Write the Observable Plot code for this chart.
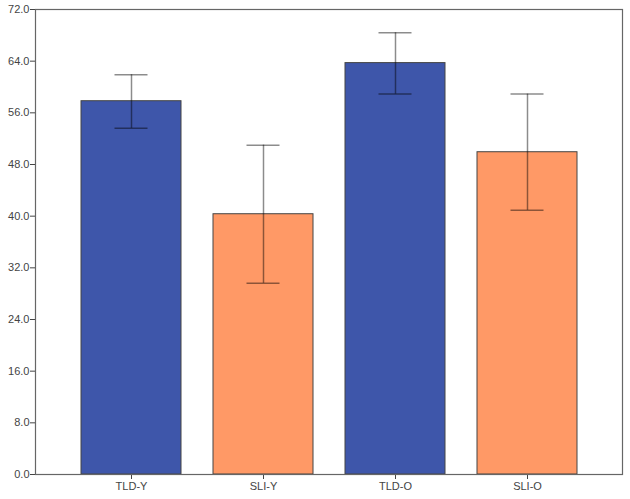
<!DOCTYPE html>
<html><head><meta charset="utf-8">
<script src="https://cdn.jsdelivr.net/npm/d3@7"></script>
<script src="https://cdn.jsdelivr.net/npm/@observablehq/plot@0.6"></script>
<style>body{margin:0;background:#fff;} svg{display:block;}</style>
</head><body><div id="chart"></div>
<script>
const groups = ["TLD-Y", "SLI-Y", "TLD-O", "SLI-O"];
const means = [57.8, 40.3, 63.7, 49.9];
const lower = [53.6, 29.6, 58.9, 40.9];
const upper = [61.9, 51.0, 68.4, 58.9];
const colors = ["#3E56AA", "#FF9966", "#3E56AA", "#FF9966"];
const yTicks = [0, 8, 16, 24, 32, 40, 48, 56, 64, 72];

const data = groups.map((g, i) => ({group: g, mean: means[i], lo: lower[i], hi: upper[i], color: colors[i]}));

const chart = Plot.plot({
  width: 630, height: 499,
  marginLeft: 35, marginRight: 8, marginTop: 9, marginBottom: 25,
  style: {fontFamily: "Liberation Sans, Arial, sans-serif", color: "#444"},
  x: {domain: groups, paddingInner: 0.245, paddingOuter: 0.338},
  y: {domain: [0, 72]},
  marks: [
    Plot.barY(data, {x: "group", y: "mean", fill: "color", stroke: "#444", strokeWidth: 1}),
    Plot.ruleX(data, {x: "group", y1: "lo", y2: "hi", stroke: "#000", strokeOpacity: 0.45, strokeWidth: 1.5}),
    Plot.tickY(data, {x: "group", y: "lo", stroke: "#000", strokeOpacity: 0.45, strokeWidth: 1.5, insetLeft: 33.5, insetRight: 33.5}),
    Plot.tickY(data, {x: "group", y: "hi", stroke: "#000", strokeOpacity: 0.45, strokeWidth: 1.5, insetLeft: 33.5, insetRight: 33.5}),
    Plot.axisY({ticks: yTicks, tickFormat: d3.format(".1f"), label: null, tickSize: 5, tickPadding: 1, fontSize: 11}),
    Plot.axisX({label: null, tickSize: 5, tickPadding: 3, fontSize: 11}),
    Plot.frame({stroke: "#666", strokeWidth: 1.2})
  ]
});
document.getElementById("chart").appendChild(chart);
</script>
</body></html>
